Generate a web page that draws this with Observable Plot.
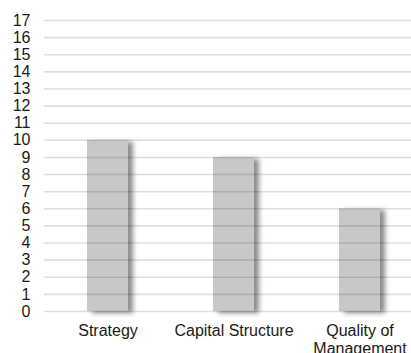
<!DOCTYPE html>
<html>
<head>
<meta charset="utf-8">
<script src="https://cdn.jsdelivr.net/npm/d3@7"></script>
<script src="https://cdn.jsdelivr.net/npm/@observablehq/plot@0.6"></script>
<style>
  html, body { margin: 0; padding: 0; background: #fff; }
  #chart svg { display: block; }
</style>
</head>
<body>
<div id="chart"></div>
<script>
const categories = ["Strategy", "Capital Structure", "Quality of Management"];
const values = [10, 9, 6];
const yTicks = [0, 1, 2, 3, 4, 5, 6, 7, 8, 9, 10, 11, 12, 13, 14, 15, 16, 17];
const xLabels = ["Strategy", "Capital Structure", "Quality of\nManagement"];

const data = categories.map((c, i) => ({category: c, value: values[i]}));

const chart = Plot.plot({
  width: 411,
  height: 353,
  marginLeft: 44,
  marginRight: 0,
  marginTop: 20,
  marginBottom: 42,
  style: {fontFamily: "'Liberation Sans', Arial, sans-serif", fontSize: "16px", color: "#1a1a1a", background: "#fff"},
  x: {domain: categories, range: [44, 422], paddingInner: 0.675, paddingOuter: 0.3375, label: null},
  y: {domain: [0, 17], label: null},
  marks: [
    Plot.barY(data, {x: "category", y: "value", fill: "#c8c8c8"}),
    Plot.ruleY(yTicks, {stroke: "#000", strokeOpacity: 0.13, strokeWidth: 1.6}),
    Plot.axisY({ticks: yTicks, tickSize: 0, tickPadding: 14, fontSize: 16, label: null}),
    Plot.axisX({tickSize: 0, tickPadding: 12, fontSize: 16, lineHeight: 1.12,
      tickFormat: (d) => xLabels[categories.indexOf(d)], label: null})
  ]
});

// add drop-shadow filter to bars
const ns = "http://www.w3.org/2000/svg";
const defs = document.createElementNS(ns, "defs");
defs.innerHTML = `<filter id="barShadow" x="-30%" y="-10%" width="160%" height="130%">
  <feGaussianBlur in="SourceAlpha" stdDeviation="2.5"/>
  <feOffset dx="5" dy="1.5" result="b"/>
  <feFlood flood-color="#666" flood-opacity="0.75"/>
  <feComposite in2="b" operator="in"/>
  <feMerge><feMergeNode/><feMergeNode in="SourceGraphic"/></feMerge>
</filter>`;
chart.insertBefore(defs, chart.firstChild);
const barGroup = chart.querySelector('g[aria-label="bar"]');
if (barGroup) barGroup.setAttribute("filter", "url(#barShadow)");

document.getElementById("chart").appendChild(chart);
</script>
</body>
</html>
